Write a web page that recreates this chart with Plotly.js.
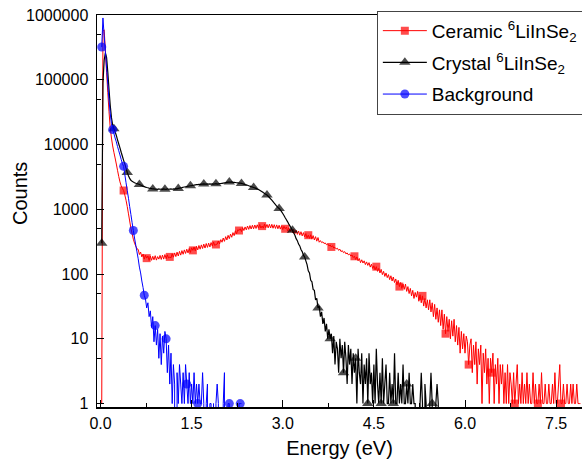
<!DOCTYPE html>
<html><head><meta charset="utf-8">
<script src="https://cdn.plot.ly/plotly-3.0.1.min.js"></script>
<style>html,body{margin:0;padding:0;background:#fff;}#chart{width:582px;height:465px;}</style>
</head><body><div id="chart"></div>
<script>
// Energy channels (eV)
const energy = [
0.02,0.04,0.06,0.08,0.10,0.12,0.14,0.16,0.18,0.20,
0.22,0.24,0.26,0.28,0.30,0.32,0.34,0.36,0.38,0.40,
0.42,0.44,0.46,0.48,0.50,0.52,0.54,0.56,0.58,0.60,
0.62,0.64,0.66,0.68,0.70,0.72,0.74,0.76,0.78,0.80,
0.82,0.84,0.86,0.88,0.90,0.92,0.94,0.96,0.98,1.00,
1.02,1.04,1.06,1.08,1.10,1.12,1.14,1.16,1.18,1.20,
1.22,1.24,1.26,1.28,1.30,1.32,1.34,1.36,1.38,1.40,
1.42,1.44,1.46,1.48,1.50,1.52,1.54,1.56,1.58,1.60,
1.62,1.64,1.66,1.68,1.70,1.72,1.74,1.76,1.78,1.80,
1.82,1.84,1.86,1.88,1.90,1.92,1.94,1.96,1.98,2.00,
2.02,2.04,2.06,2.08,2.10,2.12,2.14,2.16,2.18,2.20,
2.22,2.24,2.26,2.28,2.30,2.32,2.34,2.36,2.38,2.40,
2.42,2.44,2.46,2.48,2.50,2.52,2.54,2.56,2.58,2.60,
2.62,2.64,2.66,2.68,2.70,2.72,2.74,2.76,2.78,2.80,
2.82,2.84,2.86,2.88,2.90,2.92,2.94,2.96,2.98,3.00,
3.02,3.04,3.06,3.08,3.10,3.12,3.14,3.16,3.18,3.20,
3.22,3.24,3.26,3.28,3.30,3.32,3.34,3.36,3.38,3.40,
3.42,3.44,3.46,3.48,3.50,3.52,3.54,3.56,3.58,3.60,
3.62,3.64,3.66,3.68,3.70,3.72,3.74,3.76,3.78,3.80,
3.82,3.84,3.86,3.88,3.90,3.92,3.94,3.96,3.98,4.00,
4.02,4.04,4.06,4.08,4.10,4.12,4.14,4.16,4.18,4.20,
4.22,4.24,4.26,4.28,4.30,4.32,4.34,4.36,4.38,4.40,
4.42,4.44,4.46,4.48,4.50,4.52,4.54,4.56,4.58,4.60,
4.62,4.64,4.66,4.68,4.70,4.72,4.74,4.76,4.78,4.80,
4.82,4.84,4.86,4.88,4.90,4.92,4.94,4.96,4.98,5.00,
5.02,5.04,5.06,5.08,5.10,5.12,5.14,5.16,5.18,5.20,
5.22,5.24,5.26,5.28,5.30,5.32,5.34,5.36,5.38,5.40,
5.42,5.44,5.46,5.48,5.50,5.52,5.54,5.56,5.58,5.60,
5.62,5.64,5.66,5.68,5.70,5.72,5.74,5.76,5.78,5.80,
5.82,5.84,5.86,5.88,5.90,5.92,5.94,5.96,5.98,6.00,
6.02,6.04,6.06,6.08,6.10,6.12,6.14,6.16,6.18,6.20,
6.22,6.24,6.26,6.28,6.30,6.32,6.34,6.36,6.38,6.40,
6.42,6.44,6.46,6.48,6.50,6.52,6.54,6.56,6.58,6.60,
6.62,6.64,6.66,6.68,6.70,6.72,6.74,6.76,6.78,6.80,
6.82,6.84,6.86,6.88,6.90,6.92,6.94,6.96,6.98,7.00,
7.02,7.04,7.06,7.08,7.10,7.12,7.14,7.16,7.18,7.20,
7.22,7.24,7.26,7.28,7.30,7.32,7.34,7.36,7.38,7.40,
7.42,7.44,7.46,7.48,7.50,7.52,7.54,7.56,7.58,7.60,
7.62,7.64,7.66,7.68,7.70,7.72,7.74,7.76,7.78,7.80,
7.82,7.84,7.86,7.88,7.90
];

// Ceramic 6LiInSe2 counts (one per energy channel)
const ceramicCounts = [
1,560000,590000,280000,130000,63000,32000,18000,12600,9500,
7600,6200,5000,4000,3200,2650,2300,2100,1950,1660,
1380,1100,850,660,510,420,345,300,270,245,
240,200,218,184,204,170,195,176,190,162,
190,163,188,166,192,164,186,170,194,168,
196,170,200,172,198,176,184,178,206,182,
212,186,218,190,224,196,230,202,236,208,
242,212,248,216,254,232,262,228,268,236,
276,242,282,248,290,252,296,258,300,262,
306,270,312,276,286,290,324,292,340,310,
360,320,378,336,396,352,414,370,436,392,
466,418,484,470,500,452,520,470,534,482,
552,490,560,496,566,500,572,506,576,510,
582,514,550,512,590,518,584,516,588,514,
586,510,578,506,574,500,566,494,556,486,
546,500,534,462,520,450,506,436,492,420,
474,410,462,398,450,388,436,376,422,362,
398,356,404,346,392,336,378,322,366,310,
328,306,314,296,302,284,292,272,281,262,
274,252,258,244,250,232,242,222,230,214,
222,205,212,198,204,190,197,180,188,168,
184,160,174,150,166,148,160,140,154,136,
150,128,142,122,134,116,130,110,122,104,
118,98,110,92,104,88,98,82,94,78,
90,74,84,68,80,64,74,60,70,58,
70,54,64,50,60,46,56,42,52,44,
54,38,48,36,46,32,42,30,40,28,
40,26,36,22,34,20,30,18,28,16,
28,14,24,12,22,13,20,10,19,11,
20,9,16,8,15,6,13,7,12,6,
11,9,4,8,10,3,8,4,9,2,
7,4,8,1,6,3,7,2,5,1,
5,3,6,1,4,2,5,1,4,2,
4,1,3,1,4,1,3,2,1,3,
1,2,4,1,2,1,3,1,2,1,
3,1,2,1,1,3,1,2,1,1,
2,1,3,1,1,2,1,1,2,1,
1,2,1,3,1,1,2,4,1,1,
2,1,1,2,1,1,2,1,2,1,
1,2,1,1,1
];

// Crystal 6LiInSe2 counts
const crystalCounts = [
300,90000,200000,260000,220000,130000,70000,40000,26000,20000,
17500,15800,13800,11800,10200,8900,7600,6600,5700,5000,
4300,3700,3300,3000,2800,2700,2630,2570,2520,2500,
2460,2420,2370,2330,2260,2240,2200,2170,2150,2110,
2100,2090,2060,2070,2040,2050,2030,2060,2040,2050,
2030,2060,2040,2030,2070,2040,2050,2060,2040,2060,
2050,2080,2070,2100,2120,2140,2160,2190,2210,2230,
2250,2270,2290,2310,2320,2350,2360,2380,2400,2410,
2430,2420,2440,2450,2460,2440,2450,2470,2450,2460,
2440,2470,2450,2460,2480,2450,2470,2490,2500,2520,
2540,2560,2580,2610,2630,2640,2620,2640,2610,2600,
2590,2570,2560,2540,2530,2510,2480,2450,2410,2380,
2350,2310,2280,2240,2210,2170,2140,2100,2060,2020,
1970,1920,1870,1810,1760,1700,1660,1590,1520,1450,
1380,1310,1240,1180,1120,1070,1030,980,920,860,
800,740,690,640,590,550,510,475,430,398,
352,328,290,272,240,222,196,184,160,140,
112,104,80,76,58,56,40,42,30,32,
22,26,17,21,13,17,10,14,10,12,
6,11,4,9,7,3,10,5,8,3,
9,5,2,8,4,7,2,6,3,5,
1,7,3,2,6,1,4,2,5,1,
6,2,3,1,4,1,7,2,1,3,
1,5,1,2,4,1,1,3,1,2,
1,6,1,1,3,1,2,1,4,1,
1,2,1,3,1,1,2,1,1,0,
0,0,1,3,1,0,2,1,0,0,
1,3,1,0,0,1,2,1,0,0
];

// Background counts
const backgroundCounts = [
320000,900000,480000,270000,150000,85000,48000,30000,21000,17000,
14800,12600,11000,9300,8000,6900,5900,5100,4600,3450,
2570,1950,1480,1100,830,620,470,360,280,220,
172,128,104,78,62,47,41,30,36,22,
27,15,22,9,16,8,14,5,12,4,
11,6,13,10,3,8,2,6,1,4,
2,0,3,1,4,2,1,3,1,4,
2,1,3,1,2,1,3,1,2,1,
2,1,1,3,1,0,1,2,0,1,
1,0,1,0,1,2,1,0,0,0,
1,3,0,0,1,1,0,0,0,0,
0,0,0,1,1,1
];

const seriesNames = ['Ceramic <sup>6</sup>LiInSe<sub>2</sub>', 'Crystal <sup>6</sup>LiInSe<sub>2</sub>', 'Background'];
const xTickVals = [0, 1.5, 3, 4.5, 6, 7.5];
const xTickText = ['0.0', '1.5', '3.0', '4.5', '6.0', '7.5'];
const yTickVals = [1, 10, 100, 1000, 10000, 100000, 1000000];
const yTickText = ['1', '10', '100', '1000', '10000', '100000', '1000000'];
const yMinorVals = [5, 50, 500, 5000, 50000, 500000];
const xTitle = 'Energy (eV)';
const yTitle = 'Counts';

const FONT = 'Liberation Sans, Arial, Helvetica, sans-serif';

// markers drawn on every n-th channel (style only)
function markerArrays(n, start, step, color, size) {
  const marked = new Set();
  for (let k = 0; start + k * step < n; k++) marked.add(Math.round(start + k * step));
  const colors = [], sizes = [];
  for (let i = 0; i < n; i++) {
    if (marked.has(i)) { colors.push(color); sizes.push(size); }
    else if (i === 0) { colors.push(color); sizes.push(0); }
    else { colors.push('rgba(0,0,0,0)'); sizes.push(size); }
  }
  return {colors, sizes};
}

function makeTrace(counts, name, color, symbol, size, start, step, lw, group) {
  const n = counts.length;
  const m = markerArrays(n, start, step, color, size);
  return {
    type: 'scatter', mode: 'lines+markers', name: name, legendgroup: group,
    x: energy.slice(0, n), y: counts,
    line: {color: color, width: lw, simplify: false},
    marker: {symbol: symbol, color: m.colors, size: m.sizes, line: {width: 0}},
    hoverinfo: 'skip'
  };
}

const traces = [
  makeTrace(ceramicCounts, seriesNames[0], '#FF0000', 'square', 8, 18, 18.95, 1, 'a'),
  makeTrace(crystalCounts, seriesNames[1], '#000000', 'triangle-up', 10, 0, 10.45, 1.2, 'b'),
  makeTrace(backgroundCounts, seriesNames[2], '#0000FF', 'circle', 9, 0, 8.78, 1, 'c')
];

const layout = {
  width: 582, height: 465,
  margin: {l: 97, r: 0, t: 15, b: 58, autoexpand: false},
  paper_bgcolor: '#fff', plot_bgcolor: '#fff',
  font: {family: FONT, color: '#000'},
  showlegend: true,
  legend: {
    x: 0.577, y: 1.0107, xanchor: 'left', yanchor: 'top',
    bgcolor: '#fff', bordercolor: '#444', borderwidth: 1,
    font: {family: FONT, size: 19, color: '#000'},
    itemwidth: 44, tracegroupgap: 4, traceorder: 'grouped'
  },
  xaxis: {
    range: [-0.058, 7.926],
    tickmode: 'array', tickvals: xTickVals, ticktext: xTickText,
    ticks: 'inside', ticklen: 7, tickwidth: 1, tickcolor: '#000',
    minor: {dtick: 0.75, tick0: 0, ticks: 'inside', ticklen: 4, tickcolor: '#000', tickwidth: 1},
    showline: true, linecolor: '#000', linewidth: 1.5, mirror: true,
    showgrid: false, zeroline: false,
    tickfont: {family: FONT, size: 16, color: '#000'},
    ticklabelstandoff: 1,
    title: {text: xTitle, font: {family: FONT, size: 20, color: '#000'}, standoff: 10}
  },
  yaxis: {
    type: 'log', range: [-0.053, 6.0],
    tickmode: 'array', tickvals: yTickVals, ticktext: yTickText,
    ticks: 'inside', ticklen: 7, tickwidth: 1, tickcolor: '#000',
    minor: {tickmode: 'array', tickvals: yMinorVals, ticks: 'inside', ticklen: 4, tickcolor: '#000', tickwidth: 1},
    showline: true, linecolor: '#000', linewidth: 1.5, mirror: true,
    showgrid: false, zeroline: false,
    tickfont: {family: FONT, size: 16, color: '#000'},
    ticklabelstandoff: 4
  },
  annotations: [{
    text: yTitle, textangle: -90, showarrow: false,
    xref: 'paper', yref: 'paper', x: -0.159, y: 0.5456,
    xanchor: 'center', yanchor: 'middle',
    font: {family: FONT, size: 20, color: '#000'}
  }]
};

Plotly.newPlot('chart', traces, layout, {displayModeBar: false, staticPlot: true});
</script>
</body></html>
